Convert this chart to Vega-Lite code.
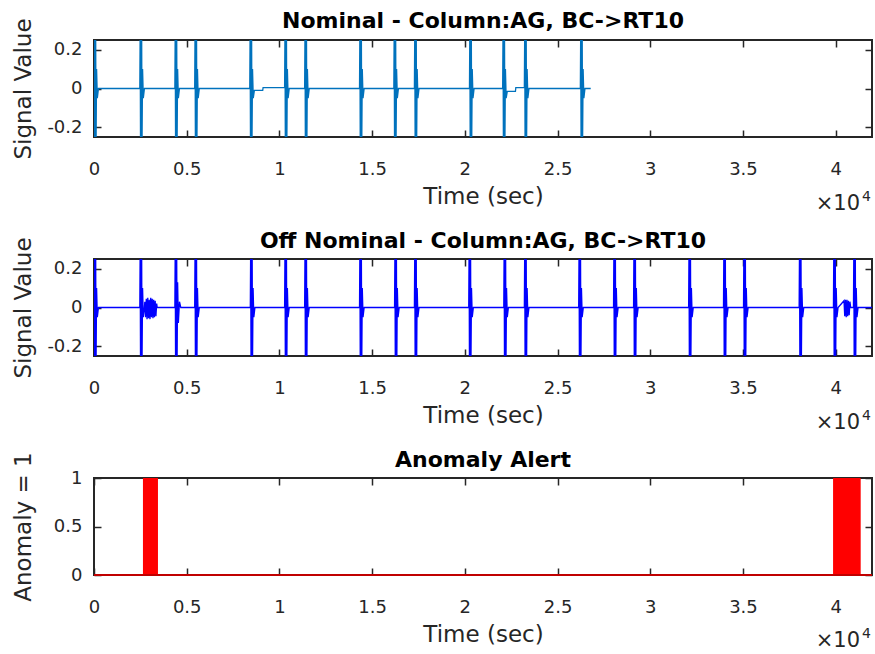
{
"$schema":"https://vega.github.io/schema/vega-lite/v6.json",
"background":"white",
"padding":{"left":11,"top":8,"right":0,"bottom":0},
"datasets":{
"nom":[
{"t":0,"v":0},{"t":10,"v":0.3},{"t":30,"v":-0.3},{"t":50,"v":0.3},{"t":70,"v":-0.3},{"t":90,"v":0.3},{"t":110,"v":-0.3},{"t":140,"v":0.1},{"t":180,"v":-0.05},{"t":240,"v":0},
{"t":2470,"v":0},{"t":2490,"v":0.3},{"t":2510,"v":-0.3},{"t":2530,"v":0.3},{"t":2550,"v":-0.3},{"t":2570,"v":0.3},{"t":2590,"v":-0.3},{"t":2620,"v":0.1},{"t":2660,"v":-0.05},{"t":2720,"v":0},
{"t":4360,"v":0},{"t":4380,"v":0.3},{"t":4400,"v":-0.3},{"t":4420,"v":0.3},{"t":4440,"v":-0.3},{"t":4460,"v":0.3},{"t":4480,"v":-0.3},{"t":4510,"v":0.1},{"t":4550,"v":-0.05},{"t":4610,"v":0},
{"t":5430,"v":0},{"t":5450,"v":0.3},{"t":5470,"v":-0.3},{"t":5490,"v":0.3},{"t":5510,"v":-0.3},{"t":5530,"v":0.3},{"t":5550,"v":-0.3},{"t":5580,"v":0.1},{"t":5620,"v":-0.05},{"t":5680,"v":0},
{"t":8400,"v":0},{"t":8420,"v":0.3},{"t":8440,"v":-0.3},{"t":8460,"v":0.3},{"t":8480,"v":-0.3},{"t":8500,"v":0.3},{"t":8520,"v":-0.3},{"t":8550,"v":0.1},{"t":8590,"v":-0.05},{"t":8650,"v":-0.01},{"t":9100,"v":-0.01},{"t":9120,"v":0.005},{"t":10280,"v":0.005},
{"t":10300,"v":0.3},{"t":10320,"v":-0.3},{"t":10340,"v":0.3},{"t":10360,"v":-0.3},{"t":10380,"v":0.3},{"t":10400,"v":-0.3},{"t":10430,"v":0.1},{"t":10470,"v":-0.05},{"t":10530,"v":0},
{"t":11360,"v":0},{"t":11380,"v":0.3},{"t":11400,"v":-0.3},{"t":11420,"v":0.3},{"t":11440,"v":-0.3},{"t":11460,"v":0.3},{"t":11480,"v":-0.3},{"t":11510,"v":0.1},{"t":11550,"v":-0.05},{"t":11610,"v":0},
{"t":14320,"v":0},{"t":14340,"v":0.3},{"t":14360,"v":-0.3},{"t":14380,"v":0.3},{"t":14400,"v":-0.3},{"t":14420,"v":0.3},{"t":14440,"v":-0.3},{"t":14470,"v":0.1},{"t":14510,"v":-0.05},{"t":14570,"v":0},
{"t":16170,"v":0},{"t":16190,"v":0.3},{"t":16210,"v":-0.3},{"t":16230,"v":0.3},{"t":16250,"v":-0.3},{"t":16270,"v":0.3},{"t":16290,"v":-0.3},{"t":16320,"v":0.1},{"t":16360,"v":-0.05},{"t":16420,"v":0},
{"t":17280,"v":0},{"t":17300,"v":0.3},{"t":17320,"v":-0.3},{"t":17340,"v":0.3},{"t":17360,"v":-0.3},{"t":17380,"v":0.3},{"t":17400,"v":-0.3},{"t":17430,"v":0.1},{"t":17470,"v":-0.05},{"t":17530,"v":0},
{"t":20250,"v":0},{"t":20270,"v":0.3},{"t":20290,"v":-0.3},{"t":20310,"v":0.3},{"t":20330,"v":-0.3},{"t":20350,"v":0.3},{"t":20370,"v":-0.3},{"t":20400,"v":0.1},{"t":20440,"v":-0.05},{"t":20500,"v":0},
{"t":22040,"v":0},{"t":22060,"v":0.3},{"t":22080,"v":-0.3},{"t":22100,"v":0.3},{"t":22120,"v":-0.3},{"t":22140,"v":0.3},{"t":22160,"v":-0.3},{"t":22190,"v":0.1},{"t":22230,"v":-0.05},{"t":22290,"v":-0.015},{"t":22730,"v":-0.015},{"t":22750,"v":0.005},{"t":23210,"v":0.005},
{"t":23230,"v":0.3},{"t":23250,"v":-0.3},{"t":23270,"v":0.3},{"t":23290,"v":-0.3},{"t":23310,"v":0.3},{"t":23330,"v":-0.3},{"t":23360,"v":0.1},{"t":23400,"v":-0.05},{"t":23460,"v":0},
{"t":26230,"v":0},{"t":26250,"v":0.3},{"t":26270,"v":-0.3},{"t":26290,"v":0.3},{"t":26310,"v":-0.3},{"t":26330,"v":0.3},{"t":26350,"v":-0.3},{"t":26380,"v":0.1},{"t":26420,"v":-0.05},{"t":26480,"v":0},{"t":26790,"v":0}
],
"off":[
{"t":0,"v":0},{"t":10,"v":0.3},{"t":30,"v":-0.3},{"t":50,"v":0.3},{"t":70,"v":-0.3},{"t":90,"v":0.3},{"t":110,"v":-0.3},{"t":140,"v":0.1},{"t":180,"v":-0.05},{"t":240,"v":0},
{"t":2470,"v":0},{"t":2490,"v":0.3},{"t":2510,"v":-0.3},{"t":2530,"v":0.3},{"t":2550,"v":-0.3},{"t":2570,"v":0.3},{"t":2590,"v":-0.3},{"t":2620,"v":0.1},{"t":2660,"v":-0.05},{"t":2720,"v":0},
{"t":2740,"v":0.03},{"t":2780,"v":-0.05},{"t":2820,"v":0.045},{"t":2860,"v":-0.06},{"t":2900,"v":0.05},{"t":2940,"v":-0.055},{"t":2980,"v":0.04},{"t":3020,"v":-0.06},{"t":3060,"v":0.05},{"t":3100,"v":-0.05},{"t":3140,"v":0.045},{"t":3180,"v":-0.055},{"t":3220,"v":0.04},{"t":3260,"v":-0.05},{"t":3300,"v":0.035},{"t":3340,"v":-0.045},{"t":3380,"v":0.02},{"t":3410,"v":0},
{"t":4360,"v":0},{"t":4380,"v":0.3},{"t":4400,"v":-0.3},{"t":4420,"v":0.3},{"t":4440,"v":-0.3},{"t":4460,"v":0.3},{"t":4480,"v":-0.3},{"t":4510,"v":0.13},{"t":4550,"v":-0.08},{"t":4610,"v":0.03},{"t":4680,"v":0},
{"t":5430,"v":0},{"t":5450,"v":0.3},{"t":5470,"v":-0.3},{"t":5490,"v":0.3},{"t":5510,"v":-0.3},{"t":5530,"v":0.3},{"t":5550,"v":-0.3},{"t":5580,"v":0.1},{"t":5620,"v":-0.05},{"t":5680,"v":0},
{"t":8430,"v":0},{"t":8450,"v":0.3},{"t":8470,"v":-0.3},{"t":8490,"v":0.3},{"t":8510,"v":-0.3},{"t":8530,"v":0.3},{"t":8550,"v":-0.3},{"t":8580,"v":0.1},{"t":8620,"v":-0.05},{"t":8680,"v":0},
{"t":10280,"v":0},{"t":10300,"v":0.3},{"t":10320,"v":-0.3},{"t":10340,"v":0.3},{"t":10360,"v":-0.3},{"t":10380,"v":0.3},{"t":10400,"v":-0.3},{"t":10430,"v":0.1},{"t":10470,"v":-0.05},{"t":10530,"v":0},
{"t":11360,"v":0},{"t":11380,"v":0.3},{"t":11400,"v":-0.3},{"t":11420,"v":0.3},{"t":11440,"v":-0.3},{"t":11460,"v":0.3},{"t":11480,"v":-0.3},{"t":11510,"v":0.1},{"t":11550,"v":-0.05},{"t":11610,"v":0},
{"t":14320,"v":0},{"t":14340,"v":0.3},{"t":14360,"v":-0.3},{"t":14380,"v":0.3},{"t":14400,"v":-0.3},{"t":14420,"v":0.3},{"t":14440,"v":-0.3},{"t":14470,"v":0.1},{"t":14510,"v":-0.05},{"t":14570,"v":0},
{"t":16210,"v":0},{"t":16230,"v":0.3},{"t":16250,"v":-0.3},{"t":16270,"v":0.3},{"t":16290,"v":-0.3},{"t":16310,"v":0.3},{"t":16330,"v":-0.3},{"t":16360,"v":0.1},{"t":16400,"v":-0.05},{"t":16460,"v":0},
{"t":17280,"v":0},{"t":17300,"v":0.3},{"t":17320,"v":-0.3},{"t":17340,"v":0.3},{"t":17360,"v":-0.3},{"t":17380,"v":0.3},{"t":17400,"v":-0.3},{"t":17430,"v":0.1},{"t":17470,"v":-0.05},{"t":17530,"v":0},
{"t":20210,"v":0},{"t":20230,"v":0.3},{"t":20250,"v":-0.3},{"t":20270,"v":0.3},{"t":20290,"v":-0.3},{"t":20310,"v":0.3},{"t":20330,"v":-0.3},{"t":20360,"v":0.1},{"t":20400,"v":-0.05},{"t":20460,"v":0},
{"t":22100,"v":0},{"t":22120,"v":0.3},{"t":22140,"v":-0.3},{"t":22160,"v":0.3},{"t":22180,"v":-0.3},{"t":22200,"v":0.3},{"t":22220,"v":-0.3},{"t":22250,"v":0.1},{"t":22290,"v":-0.05},{"t":22350,"v":0},
{"t":23210,"v":0},{"t":23230,"v":0.3},{"t":23250,"v":-0.3},{"t":23270,"v":0.3},{"t":23290,"v":-0.3},{"t":23310,"v":0.3},{"t":23330,"v":-0.3},{"t":23360,"v":0.1},{"t":23400,"v":-0.05},{"t":23460,"v":0},
{"t":26140,"v":0},{"t":26160,"v":0.3},{"t":26180,"v":-0.3},{"t":26200,"v":0.3},{"t":26220,"v":-0.3},{"t":26240,"v":0.3},{"t":26260,"v":-0.3},{"t":26290,"v":0.1},{"t":26330,"v":-0.05},{"t":26390,"v":0},
{"t":28020,"v":0},{"t":28040,"v":0.3},{"t":28060,"v":-0.3},{"t":28080,"v":0.3},{"t":28100,"v":-0.3},{"t":28120,"v":0.3},{"t":28140,"v":-0.3},{"t":28170,"v":0.1},{"t":28210,"v":-0.05},{"t":28270,"v":0},
{"t":29100,"v":0},{"t":29120,"v":0.3},{"t":29140,"v":-0.3},{"t":29160,"v":0.3},{"t":29180,"v":-0.3},{"t":29200,"v":0.3},{"t":29220,"v":-0.3},{"t":29250,"v":0.1},{"t":29290,"v":-0.05},{"t":29350,"v":0},
{"t":32070,"v":0},{"t":32090,"v":0.3},{"t":32110,"v":-0.3},{"t":32130,"v":0.3},{"t":32150,"v":-0.3},{"t":32170,"v":0.3},{"t":32190,"v":-0.3},{"t":32220,"v":0.1},{"t":32260,"v":-0.05},{"t":32320,"v":0},
{"t":33950,"v":0},{"t":33970,"v":0.3},{"t":33990,"v":-0.3},{"t":34010,"v":0.3},{"t":34030,"v":-0.3},{"t":34050,"v":0.3},{"t":34070,"v":-0.3},{"t":34100,"v":0.1},{"t":34140,"v":-0.05},{"t":34200,"v":0},
{"t":35030,"v":0},{"t":35050,"v":0.3},{"t":35070,"v":-0.3},{"t":35090,"v":0.3},{"t":35110,"v":-0.3},{"t":35130,"v":0.3},{"t":35150,"v":-0.3},{"t":35180,"v":0.1},{"t":35220,"v":-0.05},{"t":35280,"v":0},
{"t":38030,"v":0},{"t":38050,"v":0.3},{"t":38070,"v":-0.3},{"t":38090,"v":0.3},{"t":38110,"v":-0.3},{"t":38130,"v":0.3},{"t":38150,"v":-0.3},{"t":38180,"v":0.1},{"t":38220,"v":-0.05},{"t":38280,"v":0},
{"t":39880,"v":0},{"t":39900,"v":0.3},{"t":39920,"v":-0.3},{"t":39940,"v":0.3},{"t":39960,"v":-0.3},{"t":39980,"v":0.3},{"t":40000,"v":-0.3},{"t":40030,"v":0.1},{"t":40070,"v":-0.05},{"t":40130,"v":0},
{"t":40450,"v":0.035},{"t":40490,"v":-0.045},{"t":40530,"v":0.04},{"t":40570,"v":-0.05},{"t":40610,"v":0.04},{"t":40650,"v":-0.045},{"t":40690,"v":0.035},{"t":40730,"v":-0.04},{"t":40770,"v":0.03},{"t":40810,"v":0},
{"t":40960,"v":0},{"t":40980,"v":0.3},{"t":41000,"v":-0.3},{"t":41020,"v":0.3},{"t":41040,"v":-0.3},{"t":41060,"v":0.3},{"t":41080,"v":-0.3},{"t":41110,"v":0.1},{"t":41150,"v":-0.05},{"t":41210,"v":0},{"t":41960,"v":0}
],
"anom":[{"s":2640,"e":3450,"a":1},{"s":39860,"e":41350,"a":1}],
"base":[{"t":0,"a":0},{"t":41960,"a":0}],
"one":[{"k":1}]
},
"spacing":122,
"bounds":"flush",
"vconcat":[
{
"title":{"text":"Nominal - Column:AG, BC->RT10","offset":-15},
"width":778,"height":97,
"layer":[
{"data":{"name":"nom"},
"mark":{"type":"line","clip":true,"color":"#0072BD","strokeWidth":1.3},
"encoding":{
"x":{"field":"t","type":"quantitative","scale":{"domain":[0,41960],"nice":false,"zero":false},
"axis":{"orient":"bottom","values":[0,5000,10000,15000,20000,25000,30000,35000,40000],"labelExpr":"''+(datum.value/10000)","labelFlush":false,"labelOverlap":false,"tickSize":-7,"labelPadding":44,"labelBaseline":"alphabetic","title":"Time (sec)","titleY":66,"titleBaseline":"alphabetic"}},
"y":{"field":"v","type":"quantitative","scale":{"domain":[-0.25,0.25],"nice":false,"zero":false},
"axis":{"orient":"left","values":[-0.2,0,0.2],"labelExpr":"datum.value==0?'0':(datum.value<0?'-':'')+format(abs(datum.value),'.1f')","tickSize":-7,"labelPadding":19,"title":"Signal Value","titleX":-64,"titleBaseline":"alphabetic"}}}},
{"data":{"name":"one"},
"mark":{"type":"text","text":"×10","align":"right","baseline":"alphabetic","dx":-12,"dy":73,"fontSize":21,"color":"#262626"},
"encoding":{
"x":{"datum":41960,"type":"quantitative","axis":{"orient":"top","values":[0,5000,10000,15000,20000,25000,30000,35000,40000],"labels":false,"tickSize":-7,"title":null}},
"y":{"datum":-0.25,"type":"quantitative","axis":{"orient":"right","values":[-0.2,0,0.2],"labels":false,"tickSize":-7,"title":null}}}},
{"data":{"name":"one"},
"mark":{"type":"text","text":"4","align":"left","baseline":"alphabetic","dx":-10,"dy":64,"fontSize":14,"color":"#262626"},
"encoding":{
"x":{"datum":41960,"type":"quantitative","axis":null},
"y":{"datum":-0.25,"type":"quantitative","axis":null}}}
],
"resolve":{"axis":{"x":"independent","y":"independent"}}
},
{
"title":{"text":"Off Nominal - Column:AG, BC->RT10","offset":-16},
"width":778,"height":97,
"layer":[
{"data":{"name":"off"},
"mark":{"type":"line","clip":true,"color":"#0000FF","strokeWidth":1.3},
"encoding":{
"x":{"field":"t","type":"quantitative","scale":{"domain":[0,41960],"nice":false,"zero":false},
"axis":{"orient":"bottom","values":[0,5000,10000,15000,20000,25000,30000,35000,40000],"labelExpr":"''+(datum.value/10000)","labelFlush":false,"labelOverlap":false,"tickSize":-7,"labelPadding":44,"labelBaseline":"alphabetic","title":"Time (sec)","titleY":66,"titleBaseline":"alphabetic"}},
"y":{"field":"v","type":"quantitative","scale":{"domain":[-0.25,0.25],"nice":false,"zero":false},
"axis":{"orient":"left","values":[-0.2,0,0.2],"labelExpr":"datum.value==0?'0':(datum.value<0?'-':'')+format(abs(datum.value),'.1f')","tickSize":-7,"labelPadding":19,"title":"Signal Value","titleX":-64,"titleBaseline":"alphabetic"}}}},
{"data":{"name":"one"},
"mark":{"type":"text","text":"×10","align":"right","baseline":"alphabetic","dx":-12,"dy":73,"fontSize":21,"color":"#262626"},
"encoding":{
"x":{"datum":41960,"type":"quantitative","axis":{"orient":"top","values":[0,5000,10000,15000,20000,25000,30000,35000,40000],"labels":false,"tickSize":-7,"title":null}},
"y":{"datum":-0.25,"type":"quantitative","axis":{"orient":"right","values":[-0.2,0,0.2],"labels":false,"tickSize":-7,"title":null}}}},
{"data":{"name":"one"},
"mark":{"type":"text","text":"4","align":"left","baseline":"alphabetic","dx":-10,"dy":64,"fontSize":14,"color":"#262626"},
"encoding":{
"x":{"datum":41960,"type":"quantitative","axis":null},
"y":{"datum":-0.25,"type":"quantitative","axis":null}}}
],
"resolve":{"axis":{"x":"independent","y":"independent"}}
},
{
"title":{"text":"Anomaly Alert","offset":-20},
"width":778,"height":97,
"layer":[
{"data":{"name":"anom"},
"mark":{"type":"rect","color":"#FF0000","clip":true},
"encoding":{
"x":{"field":"s","type":"quantitative","scale":{"domain":[0,41960],"nice":false,"zero":false},
"axis":{"orient":"bottom","values":[0,5000,10000,15000,20000,25000,30000,35000,40000],"labelExpr":"''+(datum.value/10000)","labelFlush":false,"labelOverlap":false,"tickSize":-7,"labelPadding":44,"labelBaseline":"alphabetic","title":"Time (sec)","titleY":66,"titleBaseline":"alphabetic"}},
"x2":{"field":"e"},
"y":{"field":"a","type":"quantitative","scale":{"domain":[0,1],"nice":false,"zero":false},
"axis":{"orient":"left","values":[0,0.5,1],"labelExpr":"''+datum.value","tickSize":-7,"labelPadding":19,"title":"Anomaly = 1","titleX":-64,"titleBaseline":"alphabetic"}},
"y2":{"datum":0}}},
{"data":{"name":"base"},
"mark":{"type":"line","color":"#C00000","strokeWidth":2},
"encoding":{
"x":{"field":"t","type":"quantitative","axis":null},
"y":{"field":"a","type":"quantitative","axis":null}}},
{"data":{"name":"one"},
"mark":{"type":"text","text":"×10","align":"right","baseline":"alphabetic","dx":-12,"dy":72,"fontSize":21,"color":"#262626"},
"encoding":{
"x":{"datum":41960,"type":"quantitative","axis":{"orient":"top","values":[0,5000,10000,15000,20000,25000,30000,35000,40000],"labels":false,"tickSize":-7,"title":null}},
"y":{"datum":0,"type":"quantitative","axis":{"orient":"right","values":[0,0.5,1],"labels":false,"tickSize":-7,"title":null}}}},
{"data":{"name":"one"},
"mark":{"type":"text","text":"4","align":"left","baseline":"alphabetic","dx":-10,"dy":63,"fontSize":14,"color":"#262626"},
"encoding":{
"x":{"datum":41960,"type":"quantitative","axis":null},
"y":{"datum":0,"type":"quantitative","axis":null}}}
],
"resolve":{"axis":{"x":"independent","y":"independent"}}
}
],
"config":{
"font":"DejaVu Sans",
"view":{"stroke":"#262626","strokeWidth":2},
"axis":{"grid":false,"domain":false,"tickColor":"#262626","tickWidth":1.5,"labelColor":"#262626","labelFont":"DejaVu Sans","labelFontSize":18,"titleFont":"DejaVu Sans","titleFontSize":23,"titleFontWeight":"normal","titleColor":"#262626"},
"title":{"font":"DejaVu Sans","fontSize":22,"fontWeight":"bold","color":"#000000","baseline":"alphabetic"}
}
}
